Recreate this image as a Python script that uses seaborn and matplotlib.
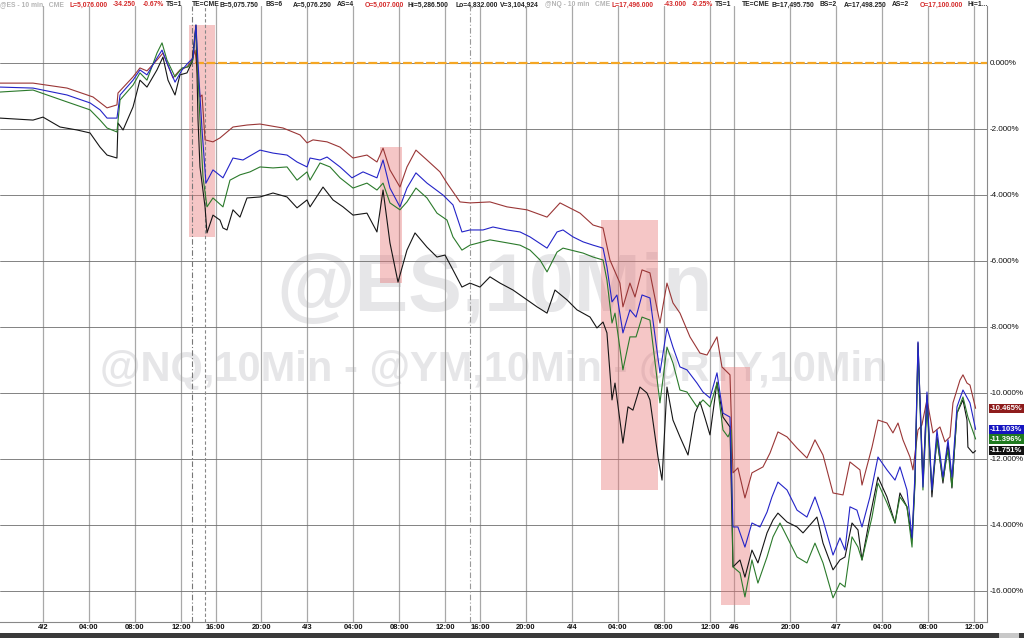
import numpy as np
import pandas as pd
import matplotlib
matplotlib.use('Agg')
import matplotlib.pyplot as plt
import matplotlib.transforms as mtransforms
from matplotlib.patches import Rectangle
import seaborn as sns

#%% data - x in session hours (4/2 00:00 = 0), y in % change vs reference bar

ym_x = [-3.74, -0.87, 2.09, 4.35, 5.57, 6.43, 6.52, 7.83, 8.43, 9.04,
        9.91, 10.43, 10.78, 11.30, 11.91, 12.52, 12.96, 13.22, 13.65, 13.83,
        14.09, 14.78, 15.39, 16.52, 17.74, 18.87, 20.87, 22.35, 22.96, 23.48,
        24.70, 25.83, 26.96, 28.17, 29.04, 29.57, 30.17, 31.04, 31.65, 32.43,
        33.39, 34.52, 35.13, 36.26, 37.13, 38.87, 40.35, 42.09, 43.83, 44.96,
        46.70, 47.83, 48.70, 49.30, 50.17, 50.43, 51.04, 51.48, 52.09, 52.78,
        53.65, 54.26, 54.78, 55.39, 56.26, 57.13, 57.74, 58.61, 59.04, 59.74,
        60.0, 60.43, 61.04, 61.65, 62.61, 63.22, 63.91, 64.70, 65.57, 66.43,
        67.13, 67.83, 68.70, 69.57, 70.17, 71.04, 71.22, 72.09, 72.61, 73.39,
        73.91, 74.35, 74.78, 75.39, 75.65, 76.09, 76.43, 76.87, 77.39, 78.0,
        78.43, 78.87, 79.13, 79.74, 80.0, 80.35, 80.61, 81.1]
ym_y = [-0.61, -0.61, -0.76, -1.03, -1.36, -1.27, -0.91, -0.42, -0.15, -0.24,
        0.09, 0.30, 0.0, -0.45, -0.21, -0.12, 0.09, 0.39, -1.03, -0.97,
        -2.33, -2.39, -2.27, -1.94, -1.88, -1.85, -1.97, -2.18, -2.42, -2.33,
        -2.39, -2.55, -2.88, -2.79, -3.0, -2.58, -3.24, -3.76, -3.15, -2.64,
        -2.94, -3.30, -3.64, -4.21, -4.24, -4.21, -4.36, -4.45, -4.67, -4.24,
        -4.55, -4.91, -5.0, -5.97, -6.67, -7.39, -6.67, -7.09, -6.27, -6.36,
        -7.88, -6.67, -7.27, -7.58, -8.30, -8.79, -8.85, -8.30, -9.21, -9.45,
        -12.42, -12.27, -13.18, -12.42, -12.24, -11.82, -11.18, -11.33, -11.67, -11.97,
        -11.42, -11.88, -13.03, -13.09, -12.09, -12.33, -12.79, -11.64, -10.82, -10.91,
        -11.21, -10.91, -11.42, -11.94, -12.33, -11.12, -10.97, -10.2, -11.21, -11.03,
        -11.48, -11.33, -10.30, -9.61, -9.45, -9.70, -9.76, -10.465]

nq_x = [-3.74, -0.87, 2.09, 4.09, 4.96, 5.57, 6.43, 6.70, 7.83, 8.43,
        9.04, 9.91, 10.35, 10.78, 11.48, 12.09, 12.61, 13.04, 13.30, 13.48,
        13.83, 14.17, 14.78, 15.65, 16.52, 17.39, 18.87, 20.0, 21.22, 22.09,
        22.96, 23.22, 24.09, 24.70, 25.83, 26.87, 27.83, 29.04, 29.57, 30.17,
        31.04, 31.65, 32.43, 33.39, 34.78, 35.65, 36.43, 37.13, 38.26, 39.13,
        40.35, 41.48, 42.35, 43.83, 44.70, 45.22, 46.09, 46.96, 47.83, 48.70,
        49.04, 49.48, 49.91, 50.43, 51.04, 51.57, 52.09, 52.78, 53.65, 54.26,
        54.78, 55.39, 56.0, 56.87, 57.39, 58.0, 58.61, 59.13, 59.74, 60.0,
        60.43, 61.04, 61.65, 62.35, 62.96, 63.39, 63.91, 64.70, 65.57, 66.43,
        67.13, 67.83, 68.70, 69.30, 69.74, 70.17, 70.78, 71.22, 71.91, 72.61,
        73.39, 74.09, 74.52, 75.13, 75.57, 75.83, 76.09, 76.52, 76.87, 77.30,
        77.74, 78.26, 78.70, 79.04, 79.48, 80.0, 80.61, 81.1]
nq_y = [-0.73, -0.76, -0.97, -1.21, -1.42, -1.67, -1.67, -0.97, -0.52, -0.21,
        -0.36, 0.15, 0.39, 0.0, -0.58, -0.21, 0.0, 0.15, 1.15, 0.0,
        -2.03, -3.64, -3.24, -3.48, -2.88, -2.94, -2.64, -2.73, -2.79, -3.0,
        -3.15, -2.88, -2.94, -2.85, -3.15, -3.48, -3.30, -3.48, -2.94, -3.79,
        -4.36, -3.79, -3.33, -3.64, -4.0, -4.3, -5.12, -5.06, -5.06, -4.97,
        -5.06, -5.12, -5.27, -5.61, -5.12, -5.06, -5.27, -5.42, -5.52, -5.61,
        -6.18, -7.24, -7.03, -8.18, -7.48, -7.70, -7.03, -7.12, -9.39, -8.03,
        -8.61, -9.21, -9.30, -9.70, -9.97, -10.15, -9.39, -10.61, -10.73, -14.06,
        -14.06, -14.67, -13.94, -14.06, -13.61, -13.15, -12.70, -12.94, -13.55, -13.76,
        -13.15, -13.85, -14.91, -14.39, -14.76, -13.45, -13.55, -14.06, -13.15, -11.94,
        -12.33, -12.64, -12.24, -12.94, -14.39, -12.42, -8.45, -12.85, -9.97, -12.94,
        -11.12, -12.55, -11.42, -12.55, -10.42, -9.91, -10.30, -11.103]

es_x = [-3.74, -0.87, 2.09, 4.09, 4.96, 5.57, 6.43, 6.70, 7.83, 8.43,
        9.04, 9.91, 10.35, 10.78, 11.48, 12.09, 12.61, 13.04, 13.30, 13.65,
        13.91, 14.26, 14.78, 15.65, 16.26, 17.13, 18.0, 18.87, 20.0, 21.22,
        22.09, 22.96, 23.22, 24.09, 24.96, 25.83, 26.96, 28.17, 29.04, 29.57,
        30.17, 31.04, 31.65, 32.43, 33.39, 34.26, 35.13, 35.65, 36.43, 37.13,
        38.87, 40.35, 41.48, 42.35, 43.22, 43.83, 44.70, 45.22, 46.96, 47.83,
        48.70, 49.04, 49.48, 49.74, 50.43, 51.04, 51.57, 52.09, 52.78, 53.65,
        54.26, 54.78, 55.39, 56.0, 56.87, 57.39, 58.0, 58.61, 59.13, 59.57,
        59.83, 60.0, 60.61, 61.04, 61.65, 62.17, 62.96, 63.48, 64.09, 64.70,
        65.57, 66.43, 67.13, 67.83, 68.70, 69.30, 69.74, 70.35, 70.87, 71.22,
        72.09, 72.61, 73.39, 74.09, 74.52, 75.13, 75.57, 75.83, 76.09, 76.52,
        76.87, 77.30, 77.74, 78.26, 78.70, 79.04, 79.48, 80.0, 80.43, 81.1]
es_y = [-0.88, -0.82, -1.18, -1.42, -1.73, -1.97, -2.09, -1.12, -0.67, -0.30,
        -0.52, 0.30, 0.61, 0.09, -0.42, -0.15, -0.12, 0.09, 1.09, -1.73,
        -3.45, -4.36, -4.09, -4.36, -3.55, -3.39, -3.30, -3.15, -3.18, -3.15,
        -3.55, -3.30, -3.55, -3.03, -3.15, -3.48, -3.79, -3.64, -3.85, -3.64,
        -4.24, -4.45, -4.21, -3.79, -4.09, -4.55, -4.76, -5.27, -5.67, -5.52,
        -5.36, -5.45, -5.52, -5.67, -5.97, -6.33, -5.73, -5.61, -5.76, -5.88,
        -5.97, -6.58, -7.88, -7.58, -9.30, -8.30, -8.30, -7.70, -7.79, -10.30,
        -8.61, -9.09, -9.91, -9.97, -10.42, -10.21, -10.42, -9.70, -11.12, -11.33,
        -11.12, -15.27, -15.45, -16.18, -15.06, -15.76, -14.97, -14.36, -13.94, -14.36,
        -14.97, -15.15, -14.55, -15.15, -16.21, -15.76, -15.88, -14.36, -14.67, -15.06,
        -13.76, -12.73, -13.33, -13.94, -13.15, -13.45, -14.67, -12.73, -8.70, -12.94,
        -10.42, -12.94, -11.42, -12.64, -11.73, -12.85, -10.61, -10.12, -10.73, -11.396]

rty_x = [-3.74, -0.87, 0.0, 1.48, 2.96, 4.09, 4.96, 5.57, 6.43, 6.52,
         6.96, 7.83, 8.43, 9.04, 9.91, 10.43, 10.87, 11.48, 11.91, 12.52,
         12.96, 13.30, 13.48, 13.65, 14.09, 14.26, 14.78, 15.39, 15.65, 16.0,
         16.52, 17.13, 17.74, 18.87, 20.0, 21.22, 22.09, 22.96, 23.22, 24.35,
         25.22, 26.09, 26.96, 28.17, 29.04, 29.57, 30.17, 30.87, 31.65, 32.35,
         33.39, 34.26, 34.96, 35.65, 36.43, 37.13, 38.0, 38.87, 39.74, 40.87,
         42.09, 42.96, 43.83, 44.52, 45.57, 46.43, 47.57, 48.17, 48.70, 49.04,
         49.48, 49.74, 50.43, 50.87, 51.30, 51.91, 52.52, 52.78, 53.48, 53.83,
         54.26, 54.78, 55.39, 56.09, 56.70, 57.13, 57.57, 58.0, 58.61, 59.13,
         59.74, 60.0, 60.61, 61.04, 61.65, 62.17, 62.96, 63.48, 63.91, 64.70,
         65.57, 66.09, 67.30, 67.83, 68.70, 69.30, 69.74, 70.35, 70.87, 71.22,
         71.91, 72.61, 73.39, 74.09, 74.52, 75.13, 75.57, 75.83, 76.09, 76.52,
         76.87, 77.30, 77.74, 78.26, 78.70, 79.04, 79.48, 80.0, 80.35, 80.43,
         80.87, 81.1]
rty_y = [-1.67, -1.73, -1.64, -1.94, -2.03, -2.12, -2.55, -2.79, -2.88, -1.82,
         -2.03, -1.33, -0.52, -0.73, -0.21, 0.18, -0.52, -0.97, -0.36, -0.30,
         0.03, 1.15, -1.73, -3.15, -4.36, -5.15, -4.61, -4.76, -5.0, -5.06,
         -4.45, -4.67, -4.09, -4.06, -3.94, -4.06, -4.39, -4.15, -4.36, -3.76,
         -4.15, -4.36, -4.61, -4.55, -5.12, -3.85, -5.45, -6.64, -5.67, -5.15,
         -5.58, -5.88, -5.82, -6.27, -6.79, -6.67, -6.79, -6.48, -6.67, -6.88,
         -7.18, -7.39, -7.58, -6.88, -7.18, -7.48, -7.70, -8.03, -7.85, -8.18,
         -10.21, -9.70, -11.52, -10.42, -10.52, -9.82, -10.0, -10.21, -11.94, -12.64,
         -9.82, -10.82, -11.33, -11.88, -10.61, -10.27, -10.76, -11.27, -9.67, -10.73,
         -11.03, -15.27, -15.06, -15.58, -14.76, -15.15, -14.24, -13.85, -13.64, -13.91,
         -14.06, -14.24, -13.76, -14.55, -15.36, -15.06, -14.97, -13.94, -14.15, -15.06,
         -13.76, -12.55, -13.15, -13.94, -13.03, -13.45, -14.45, -12.64, -8.48, -12.64,
         -10.06, -13.15, -11.33, -12.73, -11.52, -12.88, -10.61, -10.21, -10.82, -11.64,
         -11.82, -11.751]

symbols = ['YM', 'RTY', 'ES', 'NQ']
last_vals = {'YM': -10.465, 'NQ': -11.103, 'ES': -11.396, 'RTY': -11.751}

tick_pos = [0, 4, 8, 12, 15, 19, 23, 27, 31, 35, 38, 42, 46, 50, 54, 58, 60.1, 65, 69, 73, 77, 81]
tick_lbl = ['4/2', '04:00', '08:00', '12:00', '16:00', '20:00', '4/3', '04:00', '08:00', '12:00',
            '16:00', '20:00', '4/4', '04:00', '08:00', '12:00', '4/6', '20:00', '4/7', '04:00',
            '08:00', '12:00']
y_ticks = [0, -2, -4, -6, -8, -10, -12, -14, -16]

# highlighted windows
shade_x0 = [12.70, 29.30, 48.52, 58.96]
shade_x1 = [14.96, 31.22, 53.48, 61.48]
shade_top = [1.15, -2.55, -4.76, -9.21]
shade_bot = [-5.27, -6.67, -12.94, -16.42]

event_x = [12.96, 14.09, 37.13]
ref_level = 0.0
ref_start = 13.2

#%% long dataframe for seaborn
df = pd.concat([
    pd.DataFrame({'hour': ym_x, 'pct': ym_y, 'symbol': 'YM'}),
    pd.DataFrame({'hour': rty_x, 'pct': rty_y, 'symbol': 'RTY'}),
    pd.DataFrame({'hour': es_x, 'pct': es_y, 'symbol': 'ES'}),
    pd.DataFrame({'hour': nq_x, 'pct': nq_y, 'symbol': 'NQ'}),
], ignore_index=True)

colors = {'YM': '#9a3636', 'NQ': '#2424c8', 'ES': '#2b7a2b', 'RTY': '#151515'}
box_colors = {'YM': '#8e1c1c', 'NQ': '#1515c0', 'ES': '#1f7a1f', 'RTY': '#111111'}

#%% plot
sns.set_style('white')
plt.rcParams['font.family'] = ['Liberation Sans', 'DejaVu Sans']

fig = plt.figure(figsize=(10.24, 6.38), dpi=100)
ax = fig.add_axes([0, 16 / 638, 987 / 1024, 616 / 638])

xmin, xmax = -3.74, 82.09
ymin, ymax = -16.94, 1.727

# watermarks
ax.text(0.5015, 0.539, '@ES,10Min', transform=ax.transAxes, fontsize=58, fontweight='bold',
        color='#e6e6e8', ha='center', va='center', zorder=0)
ax.text(0.5005, 0.409, '@NQ,10Min - @YM,10Min - @RTY,10Min', transform=ax.transAxes, fontsize=30,
        fontweight='bold', color='#e6e6e8', ha='center', va='center', zorder=0)

for x0, x1, t, b in zip(shade_x0, shade_x1, shade_top, shade_bot):
    ax.add_patch(Rectangle((x0, b), x1 - x0, t - b, fc='#e87878', alpha=0.42, lw=0, zorder=1))

ax.axvline(event_x[0], color='#777777', lw=0.8, ls=(0, (5, 2, 1, 2)), zorder=1.5)
ax.axvline(event_x[1], color='#888888', lw=0.8, ls=(0, (3, 2)), zorder=1.5)
ax.axvline(event_x[2], color='#9a9a9a', lw=0.8, ls=(0, (5, 2, 1, 2)), zorder=1.5)

ax.hlines(ref_level, ref_start, xmax, color='#f5a623', lw=1.6, linestyles=(0, (4, 1.2)), zorder=2)

sns.lineplot(data=df, x='hour', y='pct', hue='symbol', hue_order=symbols, palette=colors,
             estimator=None, sort=False, legend=False, lw=0.8, ax=ax, zorder=3)

ax.set_xlim(xmin, xmax)
ax.set_ylim(ymin, ymax)
ax.set_xticks(tick_pos)
ax.set_xticklabels(tick_lbl)
ax.yaxis.tick_right()
ax.set_yticks(y_ticks)
ax.set_yticklabels(['%.3f%%' % v for v in y_ticks])
ax.tick_params(axis='x', length=0, pad=1.5, labelsize=5.5, labelcolor='#111111')
ax.tick_params(axis='y', length=0, pad=2, labelsize=5.8, labelcolor='#111111')
for lbl in ax.get_xticklabels():
    lbl.set_fontweight('bold')
ax.set_xlabel('')
ax.set_ylabel('')

ax.grid(axis='x', color='#a8a8a8', lw=0.9)
ax.grid(axis='y', color='#6e6e6e', lw=0.6)
ax.set_axisbelow(True)

for s in ['top', 'left']:
    ax.spines[s].set_visible(False)
for s in ['right', 'bottom']:
    ax.spines[s].set_color('#888888')
    ax.spines[s].set_linewidth(0.8)

# last value boxes on the right scale
trans = mtransforms.blended_transform_factory(ax.transAxes, ax.transData)
for sym in ['YM', 'NQ', 'ES', 'RTY']:
    v = last_vals[sym]
    ax.text(1.003, v, '%.3f%%' % v, transform=trans, ha='left', va='center', fontsize=5.5,
            color='white', fontweight='bold', clip_on=False, zorder=5,
            bbox=dict(boxstyle='square,pad=0.16', fc=box_colors[sym], ec='none'))

# header strip
red, grey, blk = '#d42a2a', '#b4b4b4', '#222222'
header = [(0, '@ES - 10 min   CME', grey), (69, 'L=5,076.000', red), (113, '-34.250', red),
          (143, '-0.67%', red), (166, 'TS=1', blk), (192, 'TE=CME', blk), (220, 'B=5,075.750', blk),
          (265, 'BS=6', blk), (293, 'A=5,076.250', blk), (337, 'AS=4', blk), (365, 'O=5,007.000', red),
          (408, 'Hi=5,286.500', blk), (455, 'Lo=4,832.000', blk), (500, 'V=3,104,924', blk),
          (545, '@NQ - 10 min   CME', grey), (612, 'L=17,496.000', red), (664, '-43.000', red),
          (692, '-0.25%', red), (715, 'TS=1', blk), (742, 'TE=CME', blk), (772, 'B=17,495.750', blk),
          (820, 'BS=2', blk), (844, 'A=17,498.250', blk), (892, 'AS=2', blk), (920, 'O=17,100.000', red),
          (967, 'Hi=1...', blk)]
for px, s, c in header:
    fig.text(px / 1024, 1 - 5 / 638, s, color=c, fontsize=4.9, fontweight='bold', ha='left', va='center')

# bottom scroll bar
fig.add_artist(Rectangle((0, 0), 1, 5 / 638, transform=fig.transFigure, fc='#3a3a3a', lw=0))
fig.add_artist(Rectangle((999 / 1024, 0), 20 / 1024, 5 / 638, transform=fig.transFigure, fc='#c8c8c8', lw=0))

plt.savefig('out.png', dpi=100)
